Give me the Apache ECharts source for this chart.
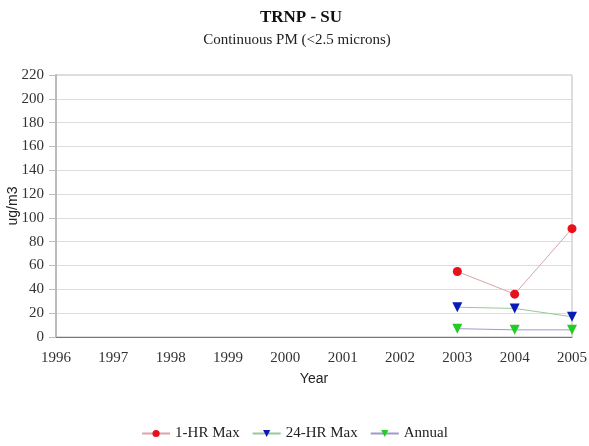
<!DOCTYPE html>
<html>
<head>
<meta charset="utf-8">
<script src="https://cdn.jsdelivr.net/npm/echarts@6/dist/echarts.min.js"></script>
<style>html,body{margin:0;padding:0;background:#fff}#c{width:589px;height:446px}</style>
</head>
<body>
<div id="c"></div>
<script>
const years = ['1996','1997','1998','1999','2000','2001','2002','2003','2004','2005'];
const oneHrMax = [null,null,null,null,null,null,null,55,36,91];
const twentyFourHrMax = [null,null,null,null,null,null,null,25,24,17];
const annual = [null,null,null,null,null,null,null,7,6,6];
const yTicks = {min:0, max:220, interval:20};

const serif = 'Liberation Serif';
const sans = 'Liberation Sans';
const chart = echarts.init(document.getElementById('c'));
chart.setOption({
  animation:false,
  title:[
    {text:'TRNP - SU', left:296, textAlign:'center', top:4,
     textStyle:{fontFamily:serif,fontSize:17,fontWeight:'bold',color:'#111'}},
    {text:'Continuous PM (<2.5 microns)', left:292, textAlign:'center', top:28,
     textStyle:{fontFamily:serif,fontSize:15,fontWeight:'normal',color:'#222'}}
  ],
  grid:{left:56,right:17,top:75,bottom:109,show:true,borderColor:'#bbb',borderWidth:1,
        containLabel:false,outerBoundsMode:'none'},
  legend:{bottom:0,left:'center',itemWidth:28,itemHeight:9,itemGap:12,
    textStyle:{fontFamily:serif,fontSize:15,color:'#222'},
    data:['1-HR Max','24-HR Max','Annual']},
  xAxis:{type:'category',data:years,boundaryGap:false,name:'Year',nameLocation:'middle',nameGap:35,
    nameMoveOverlap:false,
    nameTextStyle:{fontFamily:sans,fontSize:14,color:'#222'},
    axisLine:{lineStyle:{color:'#777'}},axisTick:{show:false},
    axisLabel:{fontFamily:serif,fontSize:15,color:'#333',margin:14},
    splitLine:{show:false}},
  yAxis:{type:'value',min:yTicks.min,max:yTicks.max,interval:yTicks.interval,name:'ug/m3',nameLocation:'middle',nameGap:36,
    nameMoveOverlap:false,
    nameTextStyle:{fontFamily:sans,fontSize:14,color:'#222'},
    axisLine:{show:true,lineStyle:{color:'#bbb',width:2}},
    axisTick:{show:true,length:7,lineStyle:{color:'#bbb'}},
    axisLabel:{fontFamily:serif,fontSize:15,color:'#333',margin:12},
    splitLine:{lineStyle:{color:'#ddd'}}},
  series:[
    {name:'1-HR Max',type:'line',data:oneHrMax,symbol:'circle',symbolSize:9,
     itemStyle:{color:'#e8101a'},lineStyle:{color:'#d8a4a8',width:1}},
    {name:'24-HR Max',type:'line',data:twentyFourHrMax,symbol:'triangle',symbolRotate:180,symbolSize:10,
     itemStyle:{color:'#0a1ab8'},lineStyle:{color:'#98c898',width:1}},
    {name:'Annual',type:'line',data:annual,symbol:'triangle',symbolRotate:180,symbolSize:10,
     itemStyle:{color:'#22cc22'},lineStyle:{color:'#9a9ad0',width:1}}
  ]
});
</script>
</body>
</html>
